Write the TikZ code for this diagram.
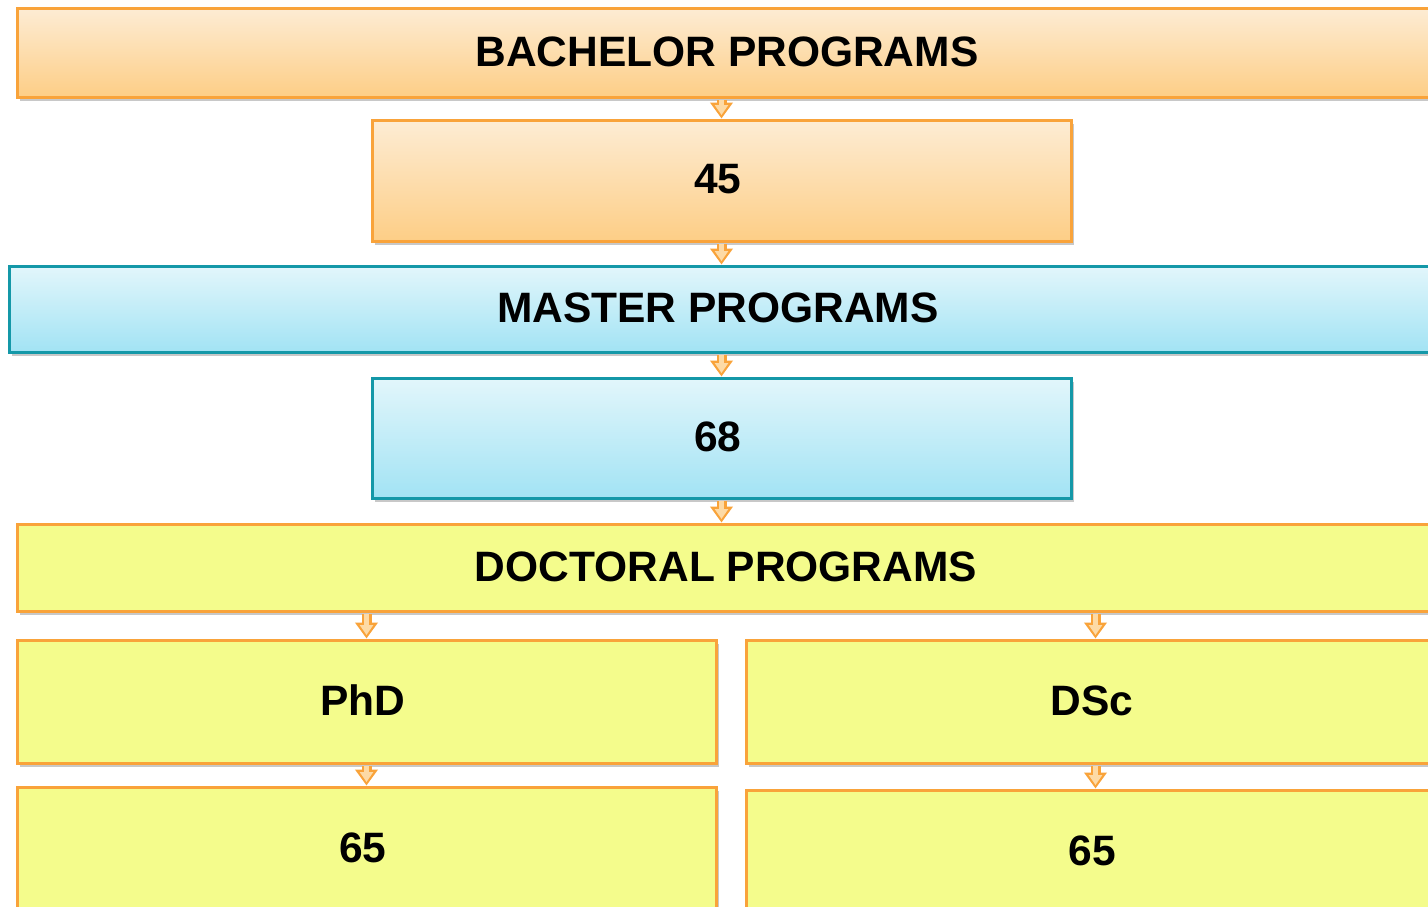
\documentclass[tikz,border=0pt]{standalone}
\usepackage{fontspec}
\setmainfont{Liberation Sans}
\usetikzlibrary{shadows,arrows.meta,calc}
\definecolor{obord}{RGB}{249,163,58}
\definecolor{bachtop}{RGB}{253,236,212}
\definecolor{bachbot}{RGB}{253,206,134}
\definecolor{bbord}{RGB}{20,152,168}
\definecolor{bluetop}{RGB}{226,246,251}
\definecolor{bluebot}{RGB}{162,227,244}
\definecolor{yel}{RGB}{244,252,140}
\definecolor{alight}{RGB}{253,218,165}
\newcommand\blockarr[2]{\draw[arrowo] #1 -- #2; \draw[arrowi] #1 -- #2;}
\newcommand\boxtext[1]{\kern-7pt\raisebox{2.5pt}{#1}}
\begin{document}
\begin{tikzpicture}[x=1pt,y=-1pt,
  box/.style={draw=obord, line width=3pt, rectangle, inner sep=0pt,
    font=\fontsize{42.5}{50}\selectfont\bfseries, text=black,
    drop shadow={shadow xshift=3pt, shadow yshift=-4pt, opacity=0.3, fill=black!70}},
  orangebox/.style={box, top color=bachtop, bottom color=bachbot},
  bluebox/.style={box, draw=bbord, top color=bluetop, bottom color=bluebot},
  yellowbox/.style={box, fill=yel},
  arrowo/.style={draw=obord, line width=10pt, shorten <=1.5pt, -{Triangle[width=22pt,length=16pt]}},
  arrowi/.style={draw=alight, line width=5.5pt, shorten <=1.5pt, shorten >=3.5pt, -{Triangle[width=13pt,length=10pt]}}
]
\useasboundingbox (0,0) rectangle (1428,906);
\fill[white] (0,0) rectangle (1428,906);
\clip (0,0) rectangle (1428,906);

\node[orangebox, minimum width=1427pt, minimum height=89pt] (bach) at (730.5,52.5) {\boxtext{BACHELOR PROGRAMS}};
\node[orangebox, minimum width=699pt, minimum height=121pt] (n45) at (721.5,180.5) {\boxtext{45}};
\node[bluebox, minimum width=1425pt, minimum height=86pt] (mast) at (721.5,309) {\boxtext{MASTER PROGRAMS}};
\node[bluebox, minimum width=699pt, minimum height=120pt] (n68) at (721.5,438) {\boxtext{68}};
\node[yellowbox, minimum width=1425pt, minimum height=87pt] (doc) at (729.5,567.5) {\boxtext{DOCTORAL PROGRAMS}};
\node[yellowbox, minimum width=699pt, minimum height=123pt] (phd) at (366.5,701.5) {\boxtext{PhD}};
\node[yellowbox, minimum width=699pt, minimum height=123pt] (dsc) at (1095.5,701.5) {\boxtext{DSc}};
\node[yellowbox, minimum width=699pt, minimum height=123pt] (p65) at (366.5,848.5) {\boxtext{65}};
\node[yellowbox, minimum width=699pt, minimum height=123pt] (d65) at (1095.5,851.5) {\boxtext{65}};

\blockarr{(bach.south -| n45)}{(n45.north)}
\blockarr{(n45.south)}{(mast.north -| n45)}
\blockarr{(mast.south -| n68)}{(n68.north)}
\blockarr{(n68.south)}{(doc.north -| n68)}
\blockarr{(doc.south -| phd)}{(phd.north)}
\blockarr{(doc.south -| dsc)}{(dsc.north)}
\blockarr{(phd.south)}{(p65.north)}
\blockarr{(dsc.south)}{(d65.north)}
\end{tikzpicture}
\end{document}
